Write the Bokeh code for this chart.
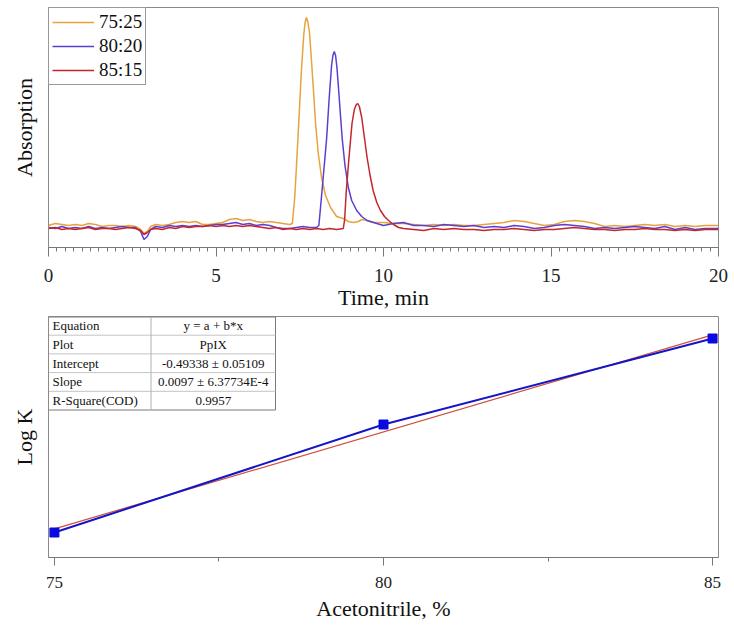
from bokeh.plotting import figure
from bokeh.layouts import column
from bokeh.models import Range1d, FixedTicker, SingleIntervalTicker, Legend, LegendItem
from bokeh.core.properties import value
from bokeh.embed import file_html
from bokeh.resources import INLINE

FONT = "Liberation Serif"

# ---------------- chromatograms (time, min ; absorption, a.u.) ----------------
chrom_75_25 = [
    (0.0, 0.02), (0.2, 0.04), (0.4, 0.03), (0.6, 0.02), (0.8, 0.03), (1.0, 0.02), (1.2, 0.04),
    (1.4, 0.03), (1.6, 0.01), (1.8, 0.02), (2.0, 0.02), (2.2, 0.01), (2.4, 0.02), (2.6, 0.01),
    (2.75, -0.02), (2.85, -0.06), (2.95, -0.04), (3.05, 0.01), (3.2, 0.03), (3.4, 0.02),
    (3.6, 0.03), (3.8, 0.05), (4.0, 0.06), (4.2, 0.05), (4.4, 0.06), (4.6, 0.03), (4.8, 0.03),
    (5.0, 0.04), (5.2, 0.05), (5.4, 0.08), (5.6, 0.09), (5.8, 0.07), (6.0, 0.08), (6.2, 0.06),
    (6.4, 0.05), (6.6, 0.06), (6.8, 0.05), (7.0, 0.04), (7.2, 0.03), (7.28, 0.04), (7.35, 0.30),
    (7.40, 0.60), (7.47, 1.05), (7.55, 1.57), (7.62, 1.93), (7.66, 2.05), (7.70, 2.10),
    (7.74, 2.06), (7.79, 1.95), (7.84, 1.72), (7.92, 1.32), (7.97, 1.05), (8.05, 0.75),
    (8.15, 0.50), (8.27, 0.32), (8.42, 0.20), (8.60, 0.11), (8.80, 0.09), (8.95, 0.06),
    (9.10, 0.05), (9.25, 0.06), (9.36, 0.08), (9.50, 0.07), (9.70, 0.05), (10.0, 0.05),
    (10.3, 0.04), (10.6, 0.04), (10.9, 0.03), (11.2, 0.02), (11.5, 0.03), (11.8, 0.02),
    (12.1, 0.03), (12.4, 0.02), (12.7, 0.02), (13.0, 0.03), (13.3, 0.04), (13.6, 0.05),
    (13.9, 0.07), (14.2, 0.06), (14.5, 0.04), (14.8, 0.02), (15.1, 0.03), (15.4, 0.06),
    (15.7, 0.07), (16.0, 0.06), (16.3, 0.04), (16.6, 0.01), (16.9, 0.02), (17.2, 0.01),
    (17.5, 0.02), (17.8, 0.03), (18.1, 0.02), (18.4, 0.03), (18.7, 0.01), (19.0, 0.02),
    (19.3, 0.01), (19.6, 0.02), (20.0, 0.02),
]

chrom_80_20 = [
    (0.0, 0.00), (0.2, -0.01), (0.4, 0.01), (0.6, -0.01), (0.8, 0.00), (1.0, -0.01), (1.2, 0.01),
    (1.4, -0.01), (1.6, 0.00), (1.8, -0.01), (2.0, 0.00), (2.2, 0.01), (2.4, 0.00), (2.6, 0.00),
    (2.75, -0.04), (2.85, -0.12), (2.95, -0.09), (3.05, -0.02), (3.2, 0.01), (3.4, 0.00),
    (3.6, 0.02), (3.8, 0.01), (4.0, 0.02), (4.2, 0.01), (4.4, 0.02), (4.6, 0.01), (4.8, 0.02),
    (5.0, 0.03), (5.2, 0.03), (5.4, 0.04), (5.6, 0.05), (5.8, 0.03), (6.0, 0.04), (6.2, 0.02),
    (6.4, 0.03), (6.6, 0.02), (6.8, 0.00), (7.0, -0.01), (7.2, -0.01), (7.4, 0.00), (7.6, 0.01),
    (7.8, 0.00), (8.0, 0.00), (8.07, 0.02), (8.12, 0.20), (8.20, 0.50), (8.30, 0.88),
    (8.38, 1.30), (8.45, 1.62), (8.49, 1.72), (8.53, 1.76), (8.57, 1.72), (8.61, 1.60),
    (8.66, 1.38), (8.72, 1.10), (8.77, 0.88), (8.85, 0.62), (8.95, 0.40), (9.05, 0.27),
    (9.20, 0.17), (9.35, 0.11), (9.51, 0.07), (9.80, 0.04), (10.0, 0.02), (10.3, 0.04),
    (10.6, 0.05), (10.9, 0.02), (11.2, 0.02), (11.5, 0.01), (11.8, 0.03), (12.1, 0.02),
    (12.4, 0.01), (12.7, 0.02), (13.0, 0.00), (13.3, 0.01), (13.6, 0.00), (13.9, 0.02),
    (14.2, 0.01), (14.5, -0.01), (14.8, 0.00), (15.1, 0.02), (15.4, 0.03), (15.7, 0.02),
    (16.0, 0.01), (16.3, -0.01), (16.6, 0.00), (16.9, -0.01), (17.2, 0.00), (17.5, 0.01),
    (17.8, 0.00), (18.1, -0.01), (18.4, 0.01), (18.7, -0.02), (19.0, 0.00), (19.3, -0.02),
    (19.6, -0.01), (20.0, -0.01),
]

chrom_85_15 = [
    (0.0, -0.01), (0.2, 0.00), (0.4, -0.02), (0.6, -0.01), (0.8, -0.02), (1.0, -0.01), (1.2, 0.00),
    (1.4, -0.02), (1.6, -0.01), (1.8, -0.01), (2.0, -0.02), (2.2, -0.01), (2.4, 0.00), (2.6, -0.01),
    (2.75, -0.03), (2.85, -0.07), (2.95, -0.05), (3.05, -0.02), (3.2, -0.01), (3.4, -0.02),
    (3.6, 0.00), (3.8, -0.01), (4.0, 0.01), (4.2, 0.00), (4.4, 0.01), (4.6, 0.01), (4.8, 0.02),
    (5.0, 0.01), (5.2, 0.02), (5.4, 0.01), (5.6, 0.02), (5.8, 0.01), (6.0, 0.02), (6.2, 0.01),
    (6.4, 0.00), (6.6, -0.01), (6.8, 0.00), (7.0, -0.02), (7.2, -0.01), (7.4, -0.02), (7.6, -0.01),
    (7.8, -0.02), (8.0, -0.01), (8.2, -0.02), (8.4, -0.01), (8.6, -0.02), (8.8, -0.01),
    (8.84, 0.08), (8.89, 0.37), (8.97, 0.70), (9.06, 1.04), (9.13, 1.18), (9.19, 1.23),
    (9.23, 1.24), (9.28, 1.21), (9.35, 1.10), (9.43, 0.90), (9.51, 0.70), (9.60, 0.52),
    (9.69, 0.37), (9.80, 0.25), (9.91, 0.17), (10.03, 0.11), (10.15, 0.07), (10.3, 0.03),
    (10.45, 0.00), (10.6, -0.01), (10.9, -0.02), (11.2, -0.03), (11.5, -0.01), (11.8, -0.02),
    (12.1, -0.01), (12.4, -0.02), (12.7, -0.02), (13.0, -0.03), (13.3, -0.02), (13.6, -0.02),
    (13.9, -0.01), (14.2, -0.02), (14.5, -0.03), (14.8, -0.02), (15.1, -0.02), (15.4, -0.01),
    (15.7, 0.00), (16.0, -0.01), (16.3, -0.02), (16.6, -0.02), (16.9, -0.03), (17.2, -0.02),
    (17.5, -0.02), (17.8, -0.01), (18.1, -0.02), (18.4, -0.02), (18.7, -0.03), (19.0, -0.02),
    (19.3, -0.03), (19.6, -0.02), (20.0, -0.02),
]

series_labels = ["75:25", "80:20", "85:15"]
series_colors = ["#E6A33E", "#5B3FCF", "#C4262C"]

# ---------------- Log K vs acetonitrile ----------------
acetonitrile = [75, 80, 85]
log_k = [0.2323, 0.2863, 0.3293]
fit_intercept = -0.49338
fit_slope = 0.0097

table_labels = ["Equation", "Plot", "Intercept", "Slope", "R-Square(COD)"]
table_values = ["y = a + b*x", "PpIX", "-0.49338 \u00b1 0.05109", "0.0097 \u00b1 6.37734E-4", "0.9957"]

W = 730


def style_axes(p, tick_size):
    p.xgrid.visible = False
    p.ygrid.visible = False
    p.outline_line_color = "#8a8a8a"
    p.background_fill_color = "white"
    p.border_fill_color = "white"
    for ax in (p.xaxis[0], p.yaxis[0]):
        ax.axis_label_text_font = FONT
        ax.axis_label_text_font_size = "22px"
        ax.axis_label_text_font_style = "normal"
        ax.axis_label_text_color = "#111"
        ax.major_label_text_font = FONT
        ax.major_label_text_font_size = tick_size
        ax.major_label_text_color = "#222"
        ax.axis_line_color = "#777"
        ax.major_tick_line_color = "#777"
        ax.minor_tick_line_color = "#777"
        ax.major_tick_in = 0
        ax.minor_tick_in = 0
    p.yaxis.ticker = FixedTicker(ticks=[])
    p.yaxis.major_tick_out = 0
    p.yaxis.minor_tick_out = 0
    p.yaxis.axis_line_color = "#8a8a8a"
    p.yaxis.axis_label_standoff = 12


# ---------------- top figure ----------------
p1 = figure(width=W, height=316, x_range=Range1d(0, 20), y_range=Range1d(-0.20, 2.20),
            output_backend="svg", toolbar_location=None,
            min_border_left=48, min_border_right=12, min_border_top=7, min_border_bottom=69)
style_axes(p1, "19px")
p1.xaxis.ticker = SingleIntervalTicker(interval=5, num_minor_ticks=20)
p1.xaxis.major_tick_out = 9
p1.xaxis.minor_tick_out = 4
p1.xaxis.major_label_standoff = 12
p1.xaxis.axis_label = "Time, min"
p1.xaxis.axis_label_standoff = 0
p1.yaxis.axis_label = "Absorption"

renderers = []
for data, col in zip([chrom_75_25, chrom_80_20, chrom_85_15], series_colors):
    t = [d[0] for d in data]
    v = [d[1] for d in data]
    renderers.append(p1.line(t, v, line_color=col, line_width=1.5))

legend = Legend(items=[LegendItem(label=lab, renderers=[r]) for lab, r in zip(series_labels, renderers)],
                location="top_left", margin=0, padding=3, spacing=2,
                glyph_width=42, glyph_height=22, label_height=22, label_standoff=5,
                label_text_font=FONT, label_text_font_size="19px", label_text_color="#111",
                border_line_color="#333", border_line_width=1, background_fill_alpha=1.0)
p1.add_layout(legend)

# ---------------- bottom figure ----------------
XR0, XR1 = 74.91, 85.09
YR0, YR1 = 0.2198, 0.3403
p2 = figure(width=W, height=311, x_range=Range1d(XR0, XR1), y_range=Range1d(YR0, YR1),
            output_backend="svg", toolbar_location=None,
            min_border_left=48, min_border_right=12, min_border_top=0, min_border_bottom=70)
style_axes(p2, "17px")
p2.xaxis.ticker = FixedTicker(ticks=acetonitrile, minor_ticks=[77.5, 82.5])
p2.xaxis.major_tick_out = 8
p2.xaxis.minor_tick_out = 4
p2.xaxis.major_label_standoff = 11
p2.xaxis.axis_label = "Acetonitrile, %"
p2.xaxis.axis_label_standoff = 5
p2.yaxis.axis_label = "Log K"

fit_x = [acetonitrile[0], acetonitrile[-1]]
fit_y = [fit_intercept + fit_slope * x for x in fit_x]
p2.line(fit_x, fit_y, line_color="#D0503C", line_width=1.2)
p2.line(acetonitrile, log_k, line_color="#1414C8", line_width=2)
p2.scatter(acetonitrile, log_k, marker="square", size=9, fill_color="#0A0AE0", line_color="#0A0AE0")

# table annotation (positions from frame pixels)
FW, FH = 670.0, 241.0


def bx(px):
    return XR0 + px / FW * (XR1 - XR0)


def by(py):
    return YR1 - py / FH * (YR1 - YR0)


T_L, T_R, T_DIV, ROW_H = 0.0, 227.0, 102.5, 18.7
T_B = ROW_H * len(table_labels)
p2.quad(left=[bx(T_L)], right=[bx(T_R)], top=[by(0.5)], bottom=[by(T_B)],
        fill_color="white", line_color="#7a7a7a", line_width=1)
row_ys = [by(ROW_H * i) for i in range(1, len(table_labels))]
p2.segment(x0=[bx(T_L)] * len(row_ys), x1=[bx(T_R)] * len(row_ys), y0=row_ys, y1=row_ys,
           line_color="#c4c4c4", line_width=1)
p2.segment(x0=[bx(T_DIV)], x1=[bx(T_DIV)], y0=[by(0.5)], y1=[by(T_B)], line_color="#b0b0b0", line_width=1)
text_ys = [by(ROW_H * (i + 0.5)) for i in range(len(table_labels))]
p2.text(x=[bx(4)] * len(table_labels), y=text_ys, text=table_labels,
        text_font=value(FONT), text_font_size="13px", text_baseline="middle", text_align="left",
        text_color="#111")
p2.text(x=[bx((T_DIV + T_R) / 2)] * len(table_values), y=text_ys, text=table_values,
        text_font=value(FONT), text_font_size="13px", text_baseline="middle", text_align="center",
        text_color="#111")

layout = column(p1, p2)
open("out.html", "w").write(file_html(layout, INLINE))
